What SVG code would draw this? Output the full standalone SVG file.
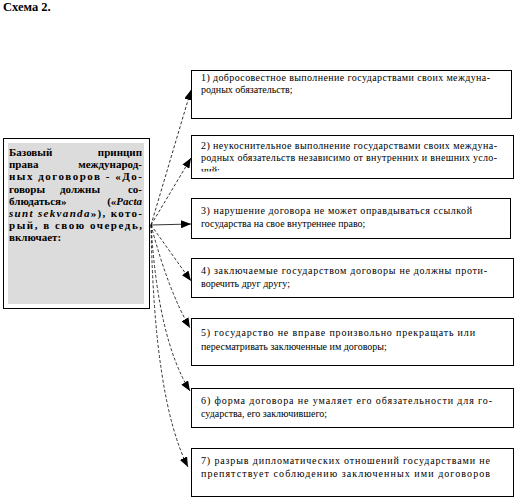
<svg xmlns="http://www.w3.org/2000/svg" width="517" height="501" viewBox="0 0 517 501">
<style>
.t{font-family:'Liberation Serif','Times New Roman',Times,'DejaVu Serif',serif;fill:#000}
.title{font-size:12.5px;font-weight:bold}
.lb{font-size:11px;font-weight:bold}
.rb{font-size:10px}
.box{fill:#fff;stroke:#000;stroke-width:1}
.c{fill:none;stroke:#000;stroke-width:0.8}
.d{stroke-dasharray:3 2}
</style>
<defs>
<marker id="ah" markerWidth="11" markerHeight="8" refX="10" refY="4" orient="auto" markerUnits="userSpaceOnUse">
<path d="M0,0 L10,4 L0,8 Z" fill="#000"/>
</marker>
<clipPath id="clip2"><rect x="191" y="135" width="323" height="36.5"/></clipPath>
</defs>
<rect width="517" height="501" fill="#fff"/>
<text class="t title" x="3" y="11">Схема 2.</text>

<g id="source">
<rect class="box" x="3.5" y="138.5" width="146" height="170"/>
<rect x="8" y="143" width="136" height="161" fill="#dcdcdc"/>
<text class="t lb" x="9" y="156">Базовый</text>
<text class="t lb" x="142" y="156" text-anchor="end">принцип</text>
<text class="t lb" x="9" y="168.2">права</text>
<text class="t lb" x="142" y="168.2" text-anchor="end">международ-</text>
<text class="t lb" x="9" y="180.4" textLength="133" lengthAdjust="spacing">ных договоров - «До-</text>
<text class="t lb" x="9" y="192.6">говоры</text>
<text class="t lb" x="80" y="192.6" text-anchor="middle">должны</text>
<text class="t lb" x="142" y="192.6" text-anchor="end">со-</text>
<text class="t lb" x="9" y="204.8">блюдаться»</text>
<text class="t lb" x="142" y="204.8" text-anchor="end">(«<tspan font-style="italic">Pacta</tspan></text>
<text class="t lb" x="9" y="217" textLength="133" lengthAdjust="spacing"><tspan font-style="italic">sunt sekvanda</tspan>»), кото-</text>
<text class="t lb" x="9" y="229.2" textLength="133" lengthAdjust="spacing">рый, в свою очередь,</text>
<text class="t lb" x="9" y="241.4">включает:</text>
</g>

<g id="connectors">
<path class="c d" d="M151,225 L191,90" marker-end="url(#ah)"/>
<path class="c d" d="M151,225 L191,158" marker-end="url(#ah)"/>
<path class="c" d="M151,225 L191,224" marker-end="url(#ah)"/>
<path class="c d" d="M151,225 L191,281" marker-end="url(#ah)"/>
<path class="c d" d="M151,225 Q168,290 190,328" marker-end="url(#ah)"/>
<path class="c d" d="M151,225 Q158,340 190,391" marker-end="url(#ah)"/>
<path class="c d" d="M151,225 Q154,400 188,467" marker-end="url(#ah)"/>
</g>

<g id="n1">
<rect class="box" x="191.5" y="70.5" width="320" height="48"/>
<text class="t rb" x="201" y="81" textLength="289" lengthAdjust="spacing">1) добросовестное выполнение государствами своих междуна-</text>
<text class="t rb" x="201" y="93">родных обязательств;</text>
</g>
<g id="n2">
<rect class="box" x="191.5" y="135.5" width="322" height="43"/>
<g clip-path="url(#clip2)">
<text class="t rb" x="201" y="148.5" textLength="296" lengthAdjust="spacing">2) неукоснительное выполнение государствами своих междуна-</text>
<text class="t rb" x="201" y="161" textLength="296" lengthAdjust="spacing">родных обязательств независимо от внутренних и внешних усло-</text>
<text class="t rb" x="201" y="173.5">ний;</text>
</g>
</g>
<g id="n3">
<rect class="box" x="191.5" y="198.5" width="319" height="40"/>
<text class="t rb" x="201" y="213.5" textLength="271" lengthAdjust="spacing">3) нарушение договора не может оправдываться ссылкой</text>
<text class="t rb" x="201" y="226.5">государства на свое внутреннее право;</text>
</g>
<g id="n4">
<rect class="box" x="191.5" y="258.5" width="322" height="39"/>
<text class="t rb" x="201" y="273.5" textLength="286" lengthAdjust="spacing">4) заключаемые государством договоры не должны проти-</text>
<text class="t rb" x="201" y="287">воречить друг другу;</text>
</g>
<g id="n5">
<rect class="box" x="191.5" y="318.5" width="322" height="47"/>
<text class="t rb" x="201" y="336" textLength="274" lengthAdjust="spacing">5) государство не вправе произвольно прекращать или</text>
<text class="t rb" x="201" y="349.5">пересматривать заключенные им договоры;</text>
</g>
<g id="n6">
<rect class="box" x="191.5" y="388.5" width="322" height="39"/>
<text class="t rb" x="201" y="403.5" textLength="291" lengthAdjust="spacing">6) форма договора не умаляет его обязательности для го-</text>
<text class="t rb" x="201" y="417">сударства, его заключившего;</text>
</g>
<g id="n7">
<rect class="box" x="191.5" y="448.5" width="322" height="48"/>
<text class="t rb" x="201" y="463.5" textLength="289" lengthAdjust="spacing">7) разрыв дипломатических отношений государствами не</text>
<text class="t rb" x="201" y="476.5" textLength="289" lengthAdjust="spacing">препятствует соблюдению заключенных ими договоров</text>
</g>
</svg>
